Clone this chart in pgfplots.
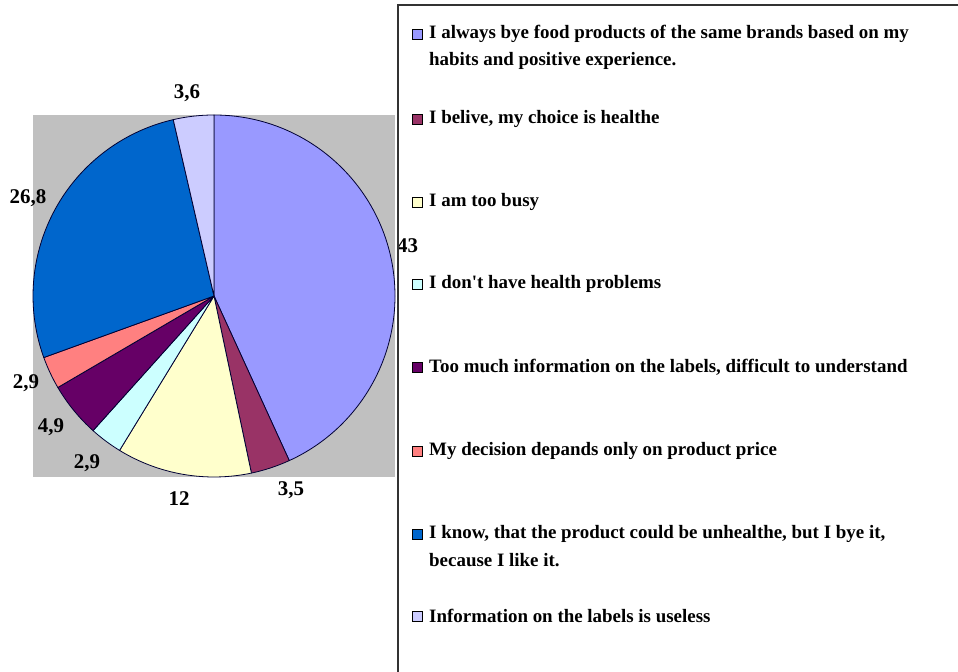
\documentclass[border=0pt]{standalone}
\usepackage{pgfplots}
\pgfplotsset{compat=1.18}
\usepackage{fontspec}
\setmainfont{Liberation Serif}
\definecolor{c1}{HTML}{9999FF}
\definecolor{c2}{HTML}{993366}
\definecolor{c3}{HTML}{FFFFCC}
\definecolor{c4}{HTML}{CCFFFF}
\definecolor{c5}{HTML}{660066}
\definecolor{c6}{HTML}{FF8080}
\definecolor{c7}{HTML}{0066CC}
\definecolor{c8}{HTML}{CCCCFF}
\definecolor{bg}{HTML}{C0C0C0}
\begin{document}
\begin{tikzpicture}[x=1bp,y=1bp]
\path[use as bounding box] (0,0) rectangle (958,672);
\begin{axis}[at={(33bp,195bp)}, anchor=south west, scale only axis,
  width=362bp, height=362bp, xmin=-1, xmax=1, ymin=-1, ymax=1,
  axis line style={draw=none}, ticks=none, clip=false,
  axis background/.style={fill=bg}]
\def\total{99.6}
\gdef\cum{0}
\foreach \v/\c in {43/c1, 3.5/c2, 12/c3, 2.9/c4, 4.9/c5, 2.9/c6, 26.8/c7, 3.6/c8} {
  \pgfmathsetmacro{\a}{90-360*(\cum/\total)}
  \pgfmathsetmacro{\b}{90-360*((\cum+\v)/\total)}
  \edef\temp{\noexpand\filldraw[fill=\c, draw=black!80!blue, line width=0.8bp, line join=round]
    (axis cs:0,0) -- (axis cs:{cos(\a)},{sin(\a)}) arc[start angle=\a, end angle=\b, radius=181bp] -- cycle;}
  \temp
  \pgfmathsetmacro{\nc}{\cum+\v}
  \xdef\cum{\nc}
}
\end{axis}
% data labels
\begin{scope}[every node/.style={font=\fontsize{21}{23}\selectfont\bfseries, inner sep=0pt}]
\node[anchor=west] at (397,426) {43};
\node at (291,182) {3,5};
\node at (179,173) {12};
\node at (87,209) {2,9};
\node at (51,245) {4,9};
\node at (26,289) {2,9};
\node at (28,474) {26,8};
\node at (187,579) {3,6};
\end{scope}
% legend box
\draw[line width=1.2bp, black!80] (958,667) -- (398,667) -- (398,0);
\begin{scope}[every node/.style={font=\fontsize{19}{26.5}\selectfont\bfseries, inner sep=0pt, anchor=west, align=left}]
\foreach \y/\c/\t in {
  638/c1/{I always bye food products of the same brands based on my},
  553/c2/{I belive, my choice is healthe},
  470/c3/{I am too busy},
  388/c4/{I don\textquotesingle t have health problems},
  305/c5/{Too much information on the labels, difficult to understand},
  221/c6/{My decision depands only on product price},
  138/c7/{I know, that the product could be unhealthe, but I bye it,},
  56/c8/{Information on the labels is useless}} {
  \filldraw[fill=\c, draw=black, line width=0.6bp] (412,\y-5) rectangle (422,\y+5);
  \node at (429,\y) {\t};
}
\node at (429,611) {habits and positive experience.};
\node at (429,112) {because I like it.};
\end{scope}
\end{tikzpicture}
\end{document}
